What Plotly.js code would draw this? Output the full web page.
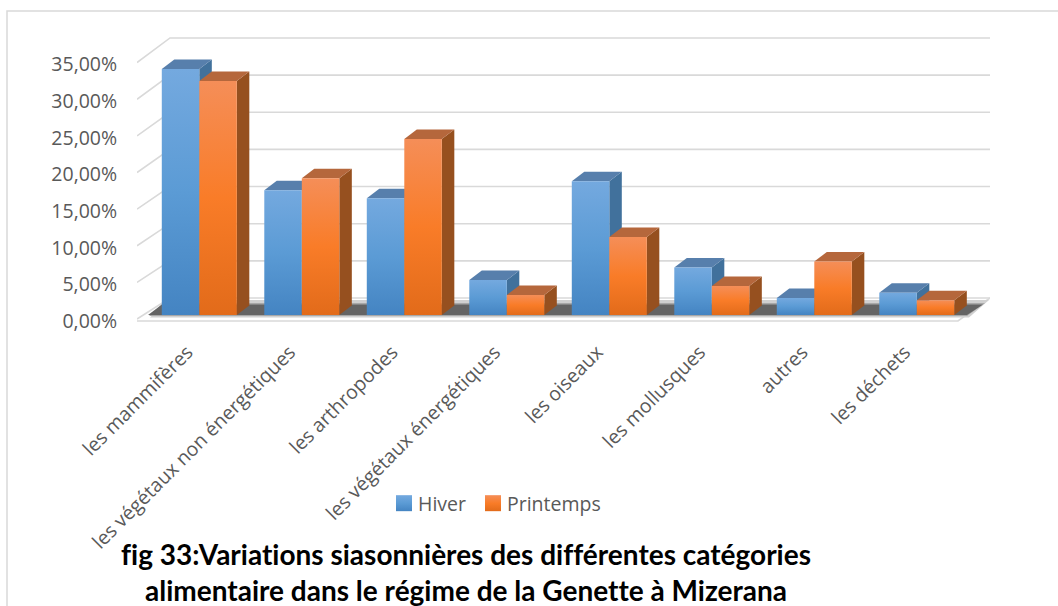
<!DOCTYPE html>
<html><head><meta charset="utf-8">
<script src="https://cdn.plot.ly/plotly-3.0.1.min.js"></script>
<style>html,body{margin:0;padding:0;background:#fff}#c{width:1058px;height:606px}text,tspan{font-variant-ligatures:none !important;font-feature-settings:"liga" 0,"clig" 0 !important}</style>
</head><body><div id="c"></div>
<script>
const categories = ["les mammifères","les végétaux non énergétiques","les arthropodes","les végétaux énergétiques","les oiseaux","les mollusques","autres","les déchets"];
const hiver = [33.1,16.8,15.7,4.7,18.0,6.4,2.3,3.0];
const printemps = [31.5,18.4,23.7,2.7,10.5,3.9,7.2,2.0];
const yTicks = [0,5,10,15,20,25,30,35];
const yTickText = ["0,00%","5,00%","10,00%","15,00%","20,00%","25,00%","30,00%","35,00%"];

// geometry of the plot frame (pixels) and the scale derived from it
const W=1058,H=606, L=137,R=990,T=30,B=336, base=315, pxU=7.43, period=102.5, c0=199.3;
const X=p=>(p-c0)/period, Y=p=>(base-p)/pxU;
const barW=0.366, dx=12.5/period, dy=9.5/pxU;
const front=v=>-0.54+v*0.986;      // front-left plane of the value axis
const wall=v=>Y(298)+v;            // back wall

const poly=pts=>'M'+pts.map(p=>p[0]+','+p[1]).join('L')+'Z';
const shapes=[], sideIdx=[];
const add=(pts,fill)=>shapes.push({type:'path',path:poly(pts),xref:'x',yref:'y',layer:'below',fillcolor:fill,line:{width:0}});
const ln=(pts)=>shapes.push({type:'path',path:'M'+pts.map(p=>p[0]+','+p[1]).join('L'),xref:'x',yref:'y',layer:'below',line:{color:'#d9d9d9',width:1.6}});

// gridlines
yTicks.forEach(v=>ln([[X(137),front(v)],[X(170),wall(v)],[X(990),wall(v)]]));
// floor
ln([[X(137),Y(321)],[X(958),Y(321)],[X(990),Y(298)]]);
// floor shadow
add([[X(150),Y(317.5)],[X(969),Y(317.5)],[X(989),Y(300)],[X(168),Y(300)]],'#d0d0d0');
add([[X(149),Y(316)],[X(967),Y(316)],[X(985),Y(303)],[X(163),Y(303)]],'#a8a8a8');
add([[X(148),Y(315)],[X(967),Y(315)],[X(983),Y(304.5)],[X(162),Y(304.5)]],'#646464');

// 3D faces built from the series values
categories.forEach((_,i)=>{
  [[hiver[i],i-barW,'#41719c','#577fac','gsh'],[printemps[i],i,'#96501f','#b5673c','gsp']].forEach(s=>{
    const v=s[0],x0=s[1],x1=x0+barW;
    sideIdx.push([shapes.length,s[4]]);
    add([[x1,0],[x1+dx,dy],[x1+dx,v+dy],[x1,v]],s[2]);
    add([[x0,v],[x1,v],[x1+dx,v+dy],[x0+dx,v+dy]],s[3]);
  });
});

// outer frame of the chart: left and top edges only
const pw=(x)=>(x-L)/(R-L), ph=(y)=>(B-y)/(B-T);
shapes.push({type:'path',xref:'paper',yref:'paper',layer:'below',
  path:`M${pw(7)},${ph(612)}L${pw(7)},${ph(11)}L${pw(1062)},${ph(11)}`,
  line:{color:'#d9d9d9',width:1.5}});

const fnt={family:'"Open Sans",sans-serif',size:19.5,color:'#595959'};
const data=[
 {type:'bar',name:'Hiver',x:categories.map((_,i)=>i),y:hiver,marker:{color:'#5b9bd5',line:{width:0}}},
 {type:'bar',name:'Printemps',x:categories.map((_,i)=>i),y:printemps,marker:{color:'#f97c28',line:{width:0}}}
];
const layout={
 width:W,height:H,autosize:false,paper_bgcolor:'#fff',plot_bgcolor:'rgba(0,0,0,0)',
 margin:{l:L,r:W-R,t:T,b:H-B,pad:0},
 barmode:'group',bargap:1-2*barW,bargroupgap:0,showlegend:true,hovermode:false,
 xaxis:{range:[X(L),X(R)],tickmode:'array',tickvals:categories.map((_,i)=>i-12/period),ticktext:categories,tickangle:-45,
   showgrid:false,zeroline:false,showline:false,ticks:'',tickfont:fnt,automargin:false},
 yaxis:{range:[Y(B),Y(T)],tickmode:'array',tickvals:yTicks.map(v=>front(v)-2/pxU),ticktext:yTickText,
   showgrid:false,zeroline:false,showline:false,ticks:'outside',ticklen:15,tickcolor:'rgba(0,0,0,0)',tickfont:fnt,automargin:false},
 legend:{orientation:'h',x:pw(384),xanchor:'left',y:ph(484),yanchor:'top',font:fnt,bgcolor:'rgba(0,0,0,0)',itemwidth:30,traceorder:'normal'},
 title:{text:'fig 33:Variations siasonnières des différentes catégories<br>alimentaire dans le régime de la Genette à Mizerana',
   xref:'container',yref:'container',x:466/W,xanchor:'center',y:1-565/H,yanchor:'top',
   font:{family:'Lato,sans-serif',size:28,color:'#000',weight:700}},
 shapes
};
function grad(svg,id,a,b,c){
  const ns='http://www.w3.org/2000/svg',g=document.createElementNS(ns,'linearGradient');
  g.setAttribute('id',id);g.setAttribute('x1','0');g.setAttribute('y1','0');g.setAttribute('x2','0');g.setAttribute('y2','1');
  [[0,a],[.5,b],[1,c]].forEach(s=>{const t=document.createElementNS(ns,'stop');t.setAttribute('offset',s[0]);t.setAttribute('stop-color',s[1]);g.appendChild(t);});
  svg.querySelector('defs').appendChild(g);
}
Plotly.newPlot('c',data,layout,{displayModeBar:false,staticPlot:true}).then(gd=>{
  const svg=gd.querySelector('svg.main-svg');
  grad(svg,'gh','#74a9df','#5b9bd5','#4484c2');
  grad(svg,'gp','#f58e58','#f97c28','#e26b1a');
  grad(svg,'gsh','#4a76a3','#41719c','#386694');
  grad(svg,'gsp','#a05a30','#96501f','#8c4510');
  gd.querySelectorAll('.barlayer .trace').forEach((t,i)=>{
    t.querySelectorAll('path').forEach(p=>{p.style.fill='url(#'+(i?'gp':'gh')+')';});
  });
  const sp=gd.querySelectorAll('.layer-below .shapelayer path');
  sideIdx.forEach(s=>{ if(sp[s[0]]) sp[s[0]].style.fill='url(#'+s[1]+')'; });
  gd.querySelectorAll('.legend .traces').forEach((t,i)=>{
    const p=t.querySelector('.legendpoints path');
    if(p){p.setAttribute('d','M-8,-8h16v16h-16z');p.style.fill='url(#'+(i?'gp':'gh')+')';}
    const m=/translate\(([-\d.]+),\s*([-\d.]+)\)/.exec(t.getAttribute('transform')||'');
    if(m&&i) t.setAttribute('transform','translate('+(parseFloat(m[1])-4)+','+m[2]+')');
    const tx=t.querySelector('.legendtext');
    if(tx) tx.setAttribute('x',parseFloat(tx.getAttribute('x'))-6);
  });
});
</script></body></html>
